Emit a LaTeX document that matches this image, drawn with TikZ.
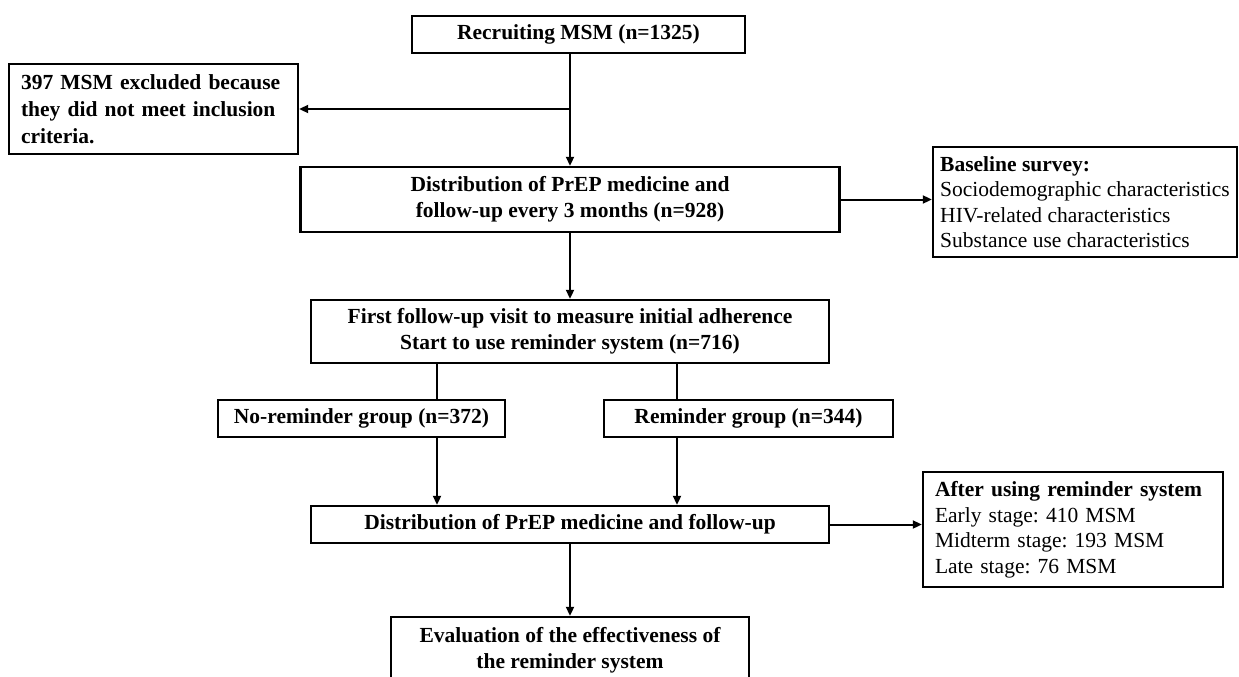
\documentclass[tikz,border=0pt]{standalone}
\usepackage{fontspec}
\setmainfont{Liberation Serif}
\usetikzlibrary{arrows.meta}
\frenchspacing
\begin{document}
\begin{tikzpicture}[x=1pt,y=-1pt,
  box/.style={draw, line width=2.4pt, inner sep=0pt, align=center,
    font=\fontsize{21.5}{26}\selectfont\bfseries},
  infobox/.style={draw, line width=2.4pt, align=left, inner ysep=0pt,
    font=\fontsize{21.5}{25.5}\selectfont},
  link/.style={line width=2pt},
  arr/.style={line width=2pt, -{Triangle[length=9pt,width=8pt]}},
]
\clip (0,0) rectangle (1239,677);
\path[use as bounding box] (0,0) rectangle (1239,677);

% main column
\node[box, minimum width=333pt, minimum height=37pt] (recruit) at (578.5,34.5)
  {Recruiting MSM (n=1325)};
\node[box, minimum width=539pt, minimum height=65pt] (dist1) at (570,199.5)
  {Distribution of PrEP medicine and\\follow-up every 3 months (n=928)};
\node[box, minimum width=518pt, minimum height=63pt] (first) at (570,331.5)
  {First follow-up visit to measure initial adherence\\Start to use reminder system (n=716)};
\node[box, minimum width=287pt, minimum height=37pt] (norem) at (361.5,418.5)
  {No-reminder group (n=372)};
\node[box, minimum width=289pt, minimum height=37pt] (rem) at (748.5,418.5)
  {Reminder group (n=344)};
\node[box, minimum width=518pt, minimum height=37pt] (dist2) at (570,524.5)
  {Distribution of PrEP medicine and follow-up};
\node[box, minimum width=358pt, minimum height=66pt] (eval) at (570,650)
  {Evaluation of the effectiveness of\\the reminder system};

% side boxes
\node[infobox, font=\fontsize{21.5}{27}\selectfont\bfseries, text width=265pt,
  inner xsep=12pt, minimum height=90pt] (excl) at (153.5,109)
  {397 MSM excluded because\\they did not meet inclusion\\criteria.};
\node[infobox, inner xsep=6pt, minimum width=304pt, minimum height=110pt] (base) at (1085,202)
  {\textbf{Baseline survey:}\\Sociodemographic characteristics\\HIV-related characteristics\\Substance use characteristics};
\node[infobox, text width=276pt, inner xsep=12pt, minimum height=115pt] (after) at (1073,529.5)
  {\textbf{After using reminder system}\\Early stage: 410 MSM\\Midterm stage: 193 MSM\\Late stage: 76 MSM};

% branch points
\coordinate (split) at (dist1.north |- excl.east);
\coordinate (lx) at (437,0);
\coordinate (rx) at (677,0);

% connectors
\draw[arr] (recruit.south -| dist1.north) -- (dist1.north);
\draw[arr] (split) -- (excl.east);
\draw[arr] (dist1.east) -- (dist1.east -| base.west);
\draw[arr] (dist1.south) -- (first.north);
\draw[link] (first.south -| lx) -- (norem.north -| lx);
\draw[link] (first.south -| rx) -- (rem.north -| rx);
\draw[arr] (norem.south -| lx) -- (dist2.north -| lx);
\draw[arr] (rem.south -| rx) -- (dist2.north -| rx);
\draw[arr] (dist2.east) -- (dist2.east -| after.west);
\draw[arr] (dist2.south) -- (eval.north);
\end{tikzpicture}
\end{document}
